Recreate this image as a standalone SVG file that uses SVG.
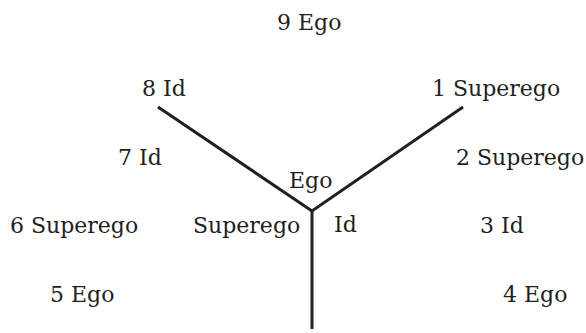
<svg xmlns="http://www.w3.org/2000/svg" width="586" height="333" viewBox="0 0 586 333">
<style>
text{font-family:"DejaVu Serif","Liberation Serif",serif;font-size:22px;fill:#231f20}
.ln{stroke:#231f20;stroke-width:3;fill:none;stroke-linecap:butt;stroke-linejoin:miter}
</style>
<rect width="586" height="333" fill="#fff"/>
<g id="connectors">
<polyline class="ln" points="158,107 312,211 463,107"/>
<line class="ln" x1="312" y1="210" x2="312" y2="329"/>
</g>
<g id="n9"><text x="277" y="30">9 Ego</text></g>
<g id="n8"><text x="142" y="96">8 Id</text></g>
<g id="n1"><text x="432" y="96">1 Superego</text></g>
<g id="n7"><text x="118" y="165">7 Id</text></g>
<g id="n2"><text x="456" y="165">2 Superego</text></g>
<g id="c-ego"><text x="289" y="188">Ego</text></g>
<g id="n6"><text x="10" y="233">6 Superego</text></g>
<g id="c-superego"><text x="193" y="233">Superego</text></g>
<g id="c-id"><text x="334" y="232">Id</text></g>
<g id="n3"><text x="480" y="233">3 Id</text></g>
<g id="n5"><text x="50" y="302">5 Ego</text></g>
<g id="n4"><text x="503" y="302">4 Ego</text></g>
</svg>
